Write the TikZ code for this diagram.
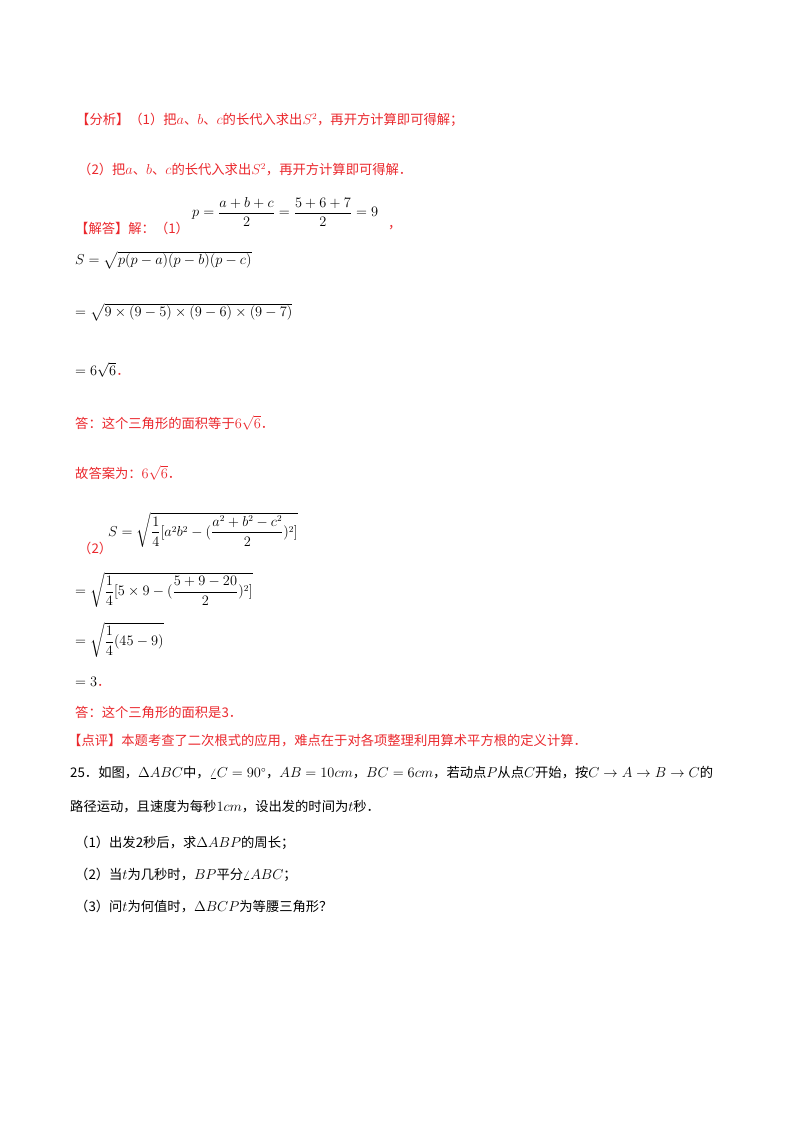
\documentclass[tikz,border=0pt]{standalone}
\usepackage{amsmath}
\usepackage{fontspec}
\setmainfont{Liberation Serif}
\newfontfamily\cjk{Noto Sans CJK SC}
\definecolor{rd}{RGB}{235,40,45}
\begin{document}
\begin{tikzpicture}[x=1pt,y=-1pt,
  t/.style={anchor=west,inner sep=0pt,font=\fontsize{13.3}{16}\selectfont\cjk},
  r/.style={t,text=rd}]
\useasboundingbox[fill=white] (0,0) rectangle (800,1132);
\node[r] (l1) at (76,120) {【分析】（1）把$a$、$b$、$c$的长代入求出$S^2$，再开方计算即可得解；};
\node[r] (l2) at (78,170) {（2）把$a$、$b$、$c$的长代入求出$S^2$，再开方计算即可得解．};
\node[r] (l3) at (75,228) {【解答】解：（1）};
\node[t] (l3m) at (192,212) {$p=\dfrac{a+b+c}{2}=\dfrac{5+6+7}{2}=9$};
\node[r] (l3c) at (388,228) {，};
\node[t] (l4) at (75,260) {$S=\sqrt{p(p-a)(p-b)(p-c)}$};
\node[t] (l5) at (75,312) {$=\sqrt{9\times(9-5)\times(9-6)\times(9-7)}$};
\node[t] (l6) at (75,370) {$=6\sqrt{6}$\textcolor{rd}{．}};
\node[r] (l7) at (75,423) {答：这个三角形的面积等于$6\sqrt{6}$．};
\node[r] (l8) at (75,473) {故答案为：$6\sqrt{6}$．};
\node[r] (l9) at (78,548) {（2）};
\node[t] (l9m) at (108,530) {$S=\sqrt{\dfrac14[a^2b^2-(\dfrac{a^2+b^2-c^2}{2})^2]}$};
\node[t] (l10) at (75,590) {$=\sqrt{\dfrac14[5\times9-(\dfrac{5+9-20}{2})^2]}$};
\node[t] (l11) at (75,640) {$=\sqrt{\dfrac14(45-9)}$};
\node[t] (l12) at (75,682) {$=3$\textcolor{rd}{．}};
\node[r] (l13) at (75,712) {答：这个三角形的面积是3．};
\node[r] (l14) at (68,741) {【点评】本题考查了二次根式的应用，难点在于对各项整理利用算术平方根的定义计算．};
\node[t] (l15) at (70,773) {25．如图，$\Delta ABC$中，$\angle C=90^\circ$，$AB=10cm$，$BC=6cm$，若动点$P$从点$C$开始，按$C\to A\to B\to C$的};
\node[t] (l16) at (70,807) {路径运动，且速度为每秒$1cm$，设出发的时间为$t$秒．};
\node[t] (l17) at (75,843) {（1）出发2秒后，求$\Delta ABP$的周长；};
\node[t] (l18) at (75,875) {（2）当$t$为几秒时，$BP$平分$\angle ABC$；};
\node[t] (l19) at (75,907) {（3）问$t$为何值时，$\Delta BCP$为等腰三角形？};
\end{tikzpicture}
\end{document}
